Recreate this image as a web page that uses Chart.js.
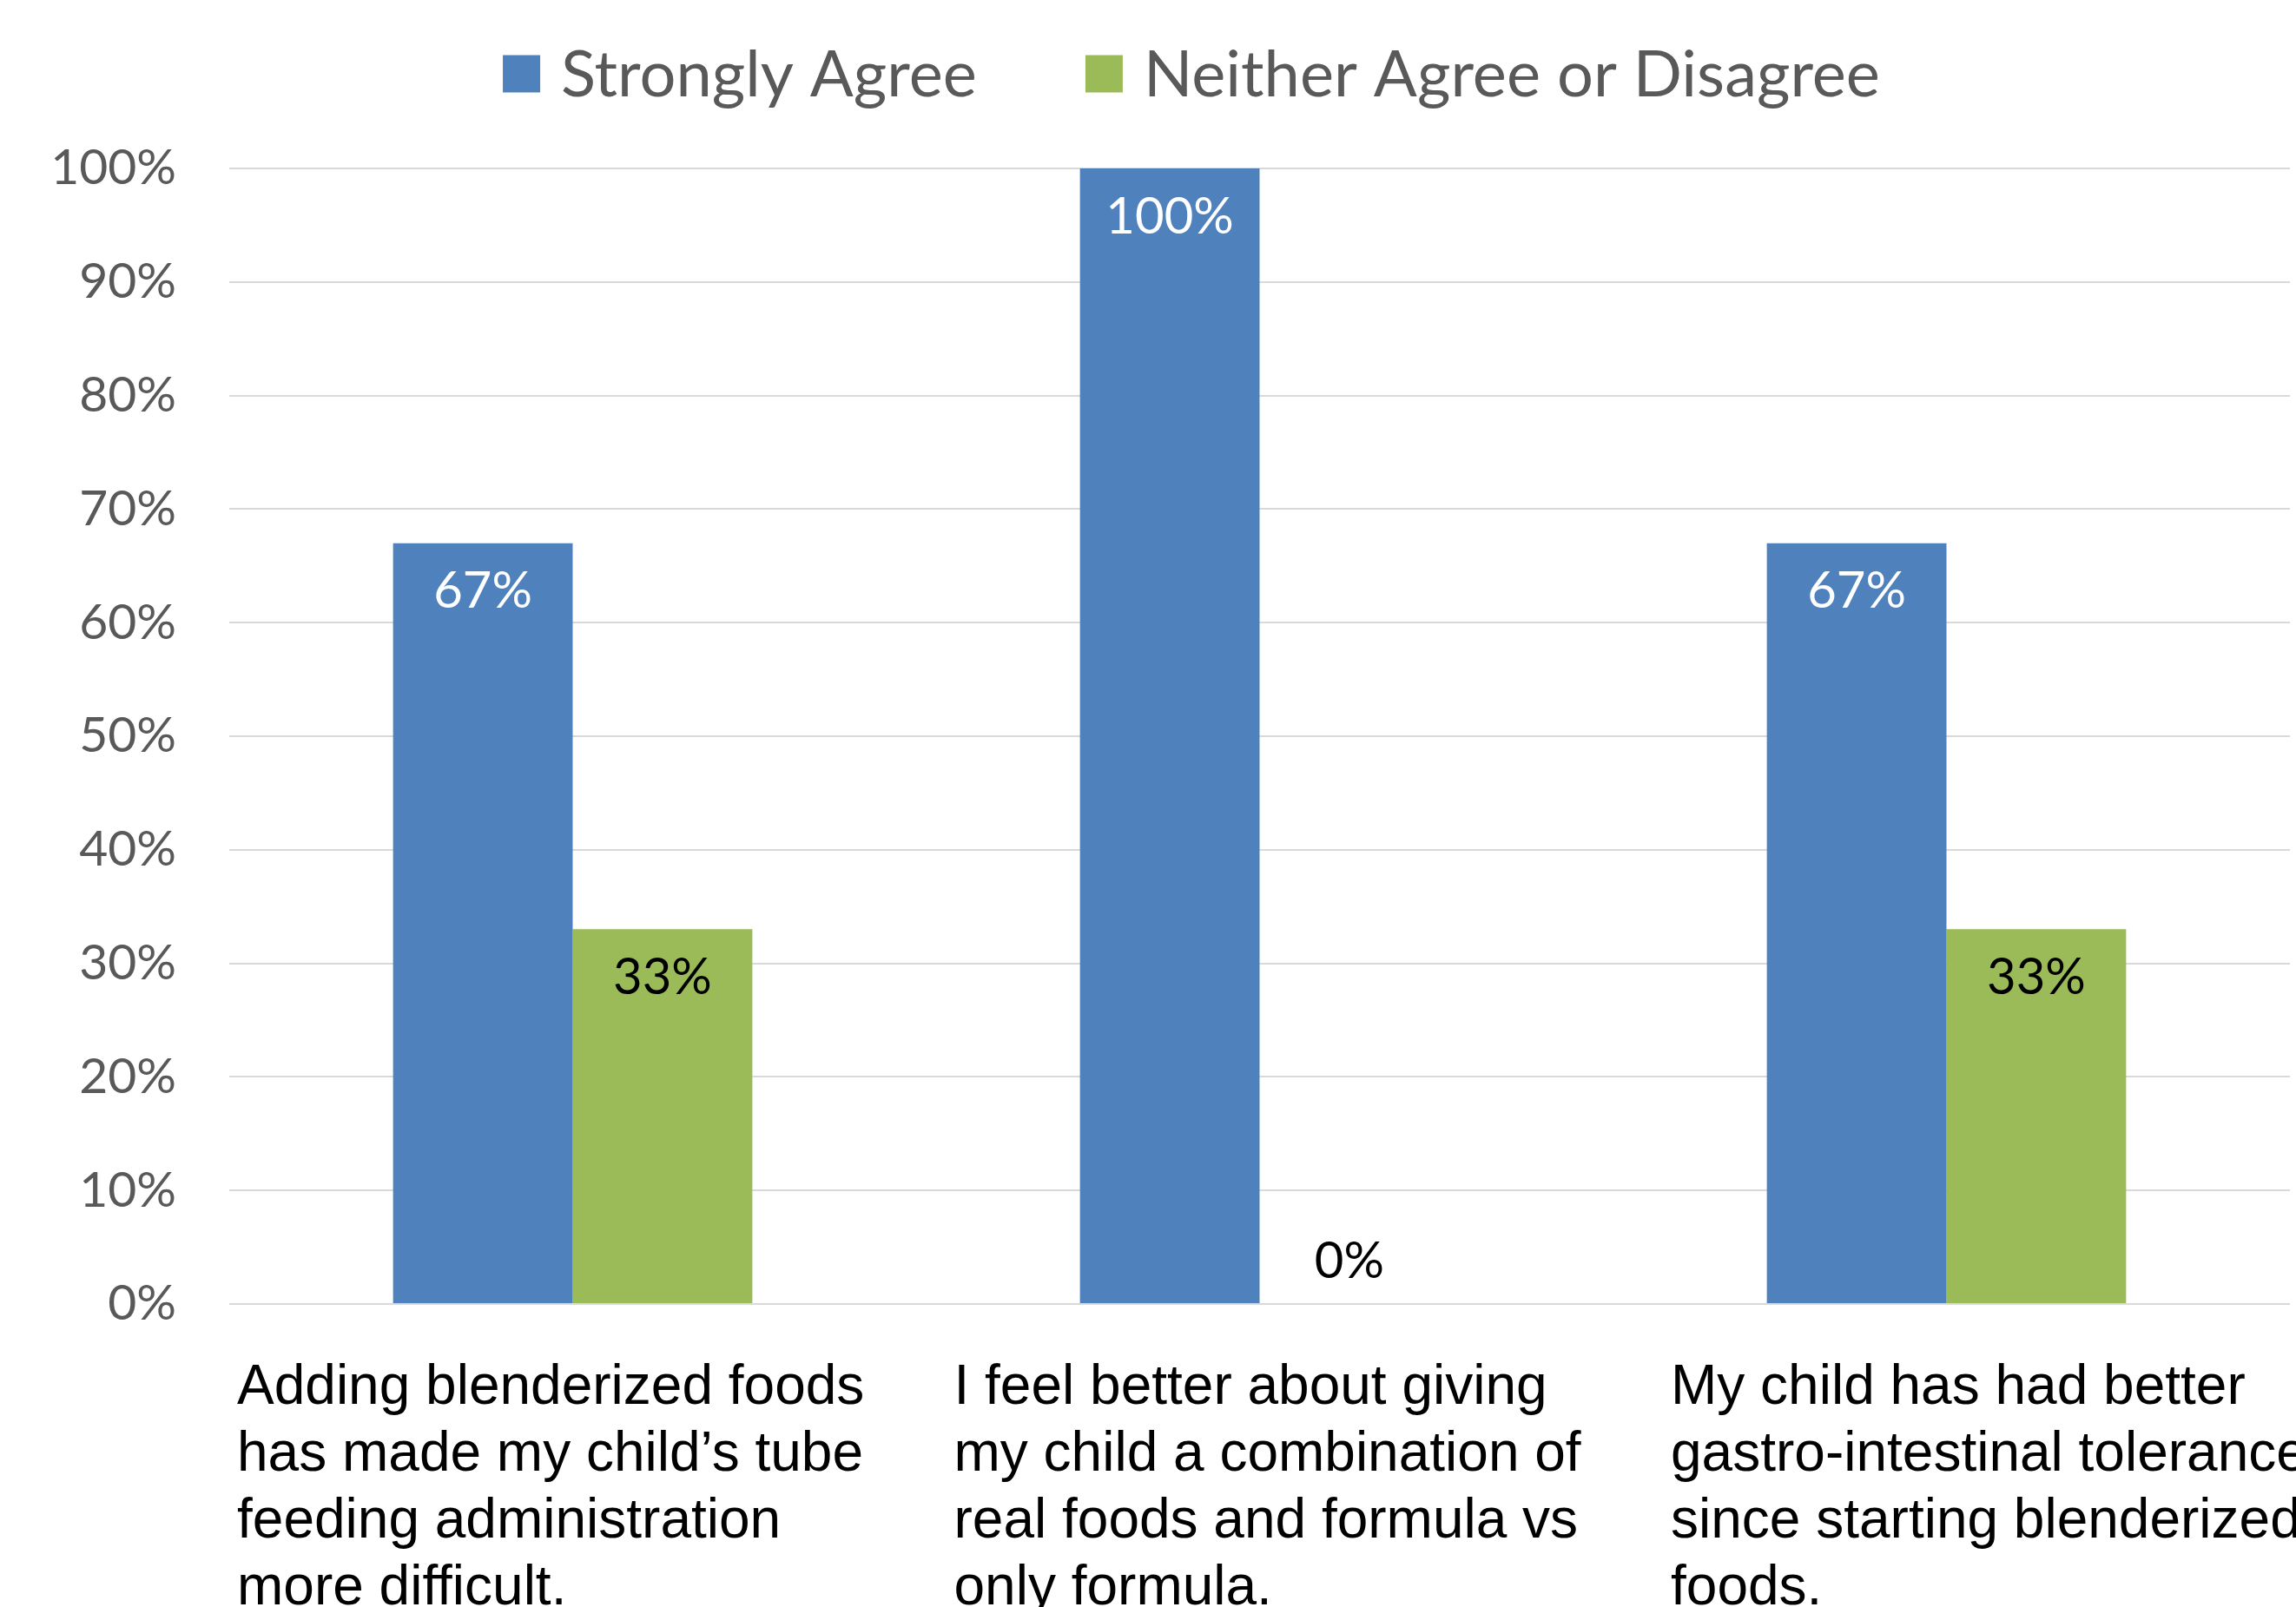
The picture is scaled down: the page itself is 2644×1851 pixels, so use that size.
<!DOCTYPE html>
<html>
<head>
<meta charset="utf-8">
<script src="https://cdn.jsdelivr.net/npm/chart.js@4.4.1/dist/chart.umd.min.js"></script>
<style>
  html, body { margin: 0; padding: 0; background: #ffffff; }
  #wrap { width: 2644px; height: 1851px; position: relative; }
</style>
</head>
<body>
<div id="wrap"><canvas id="c" width="2644" height="1851"></canvas></div>
<script>
// ---- data ----
const categories = [
  ["Adding blenderized foods", "has made my child\u2019s tube", "feeding administration", "more difficult."],
  ["I feel better about giving", "my child a combination of", "real foods and formula vs", "only formula."],
  ["My child has had better", "gastro-intestinal tolerance", "since starting blenderized", "foods."]
];
const seriesNames = ["Strongly Agree", "Neither Agree or Disagree"];
const stronglyAgree = [67, 100, 67];
const neitherAgree = [33, 0, 33];
const yTicks = [0, 10, 20, 30, 40, 50, 60, 70, 80, 90, 100];

const BLUE = "#4F81BD";
const GREEN = "#9BBB59";
const labelFont = "Lato";

const legendPlugin = {
  id: "customLegend",
  afterDraw(chart) {
    const ctx = chart.ctx;
    ctx.save();
    ctx.font = "74px " + labelFont;
    ctx.textBaseline = "middle";
    ctx.textAlign = "left";
    const box = 43, gapText = 24, gapItem = 125, cy = 85;
    const items = chart.data.datasets.map(ds => ({ text: ds.label, color: ds.backgroundColor, w: ctx.measureText(ds.label).width }));
    let total = 0;
    items.forEach((it, i) => { total += box + gapText + it.w + (i < items.length - 1 ? gapItem : 0); });
    let x = chart.width / 2 + 50 - total / 2;
    items.forEach(it => {
      ctx.fillStyle = it.color;
      ctx.fillRect(x, cy - box / 2, box, box);
      x += box + gapText;
      ctx.fillStyle = "#595959";
      ctx.fillText(it.text, x, cy + 2);
      x += it.w + gapItem;
    });
    ctx.restore();
  }
};

const dataLabelPlugin = {
  id: "dataLabels",
  afterDatasetsDraw(chart) {
    const ctx = chart.ctx;
    ctx.save();
    ctx.font = "58px " + labelFont;
    ctx.textAlign = "center";
    ctx.textBaseline = "middle";
    chart.data.datasets.forEach((ds, di) => {
      const meta = chart.getDatasetMeta(di);
      meta.data.forEach((el, i) => {
        const v = ds.data[i];
        let y;
        if (v > 0) {
          y = el.y + 56;
          ctx.fillStyle = di === 0 ? "#ffffff" : "#000000";
        } else {
          y = el.base - 49;
          ctx.fillStyle = "#000000";
        }
        ctx.fillText(v + "%", el.x, y);
      });
    });
    ctx.restore();
  }
};

const categoryLabelPlugin = {
  id: "catLabels",
  afterDraw(chart) {
    const ctx = chart.ctx;
    const area = chart.chartArea;
    ctx.save();
    ctx.font = "64px 'Liberation Sans', Arial, sans-serif";
    ctx.fillStyle = "#000000";
    ctx.textAlign = "left";
    ctx.textBaseline = "alphabetic";
    categories.forEach((lines, i) => {
      const x = area.left + 9 + i * 825.5;
      lines.forEach((ln, j) => {
        ctx.fillText(ln, x, area.bottom + 115 + j * 77);
      });
    });
    ctx.restore();
  }
};

new Chart(document.getElementById("c"), {
  type: "bar",
  data: {
    labels: categories.map(c => c.join(" ")),
    datasets: [
      { label: seriesNames[0], data: stronglyAgree, backgroundColor: BLUE, borderWidth: 0 },
      { label: seriesNames[1], data: neitherAgree, backgroundColor: GREEN, borderWidth: 0 }
    ]
  },
  options: {
    responsive: false,
    animation: false,
    devicePixelRatio: 1,
    layout: { padding: { top: 194, bottom: 341, left: 0, right: 7 } },
    datasets: { bar: { barPercentage: 1.0, categoryPercentage: 0.523 } },
    plugins: {
      legend: { display: false },
      tooltip: { enabled: false }
    },
    scales: {
      x: {
        grid: { display: false },
        border: { display: false },
        ticks: { display: false }
      },
      y: {
        min: 0,
        max: 100,
        afterBuildTicks(scale) { scale.ticks = yTicks.map(v => ({ value: v })); },
        afterFit(scale) { scale.width = 264; },
        grid: { color: "#D9D9D9", lineWidth: 2, drawTicks: false },
        border: { display: false },
        ticks: {
          padding: 61,
          color: "#595959",
          font: { family: labelFont, size: 57 },
          callback: v => v + "%"
        }
      }
    }
  },
  plugins: [legendPlugin, dataLabelPlugin, categoryLabelPlugin]
});
</script>
</body>
</html>
